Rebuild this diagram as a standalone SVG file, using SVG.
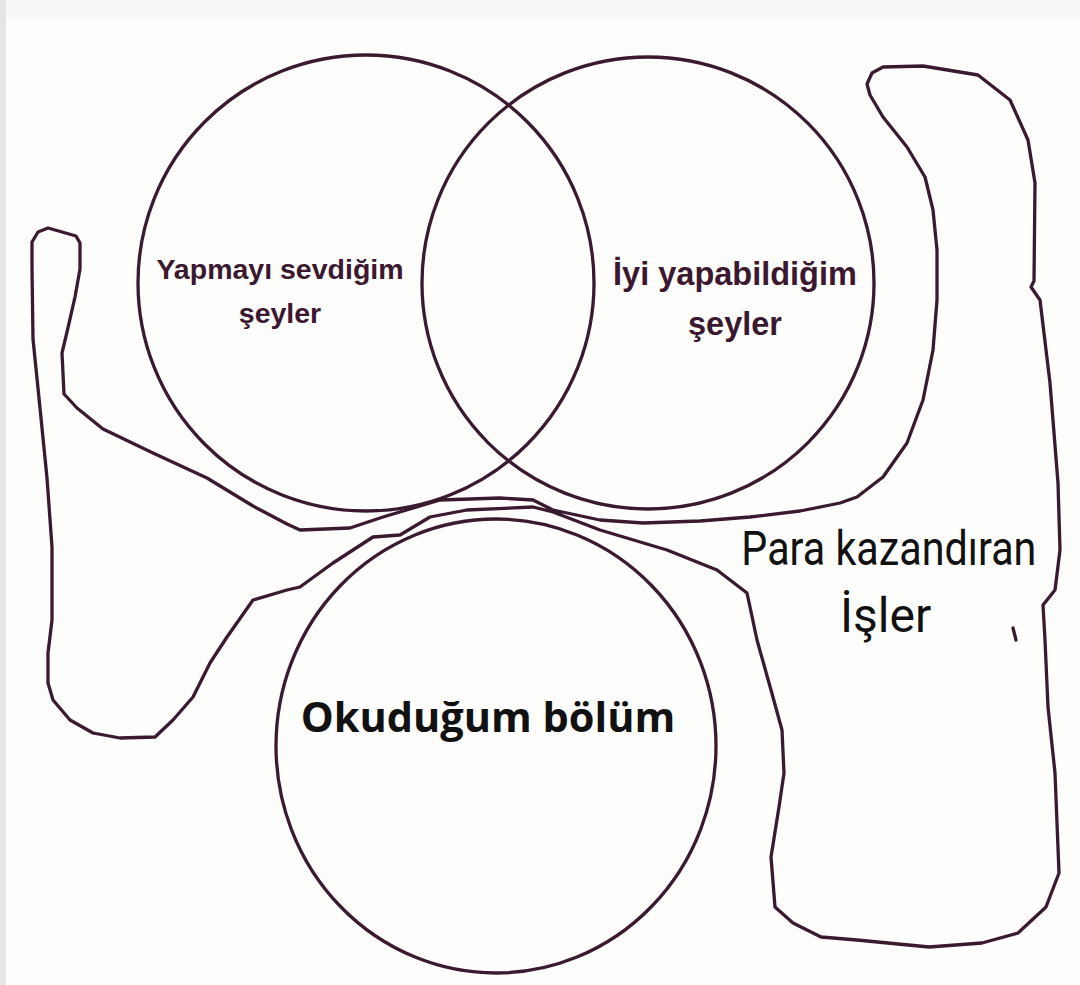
<svg xmlns="http://www.w3.org/2000/svg" width="1080" height="985" viewBox="0 0 1080 985">
<style>
.ln{fill:none;stroke:#3a1a30;stroke-width:3.3;stroke-linejoin:round;stroke-linecap:round}
.lbl{font-family:"Liberation Sans",Arial,sans-serif;font-weight:700;fill:#3b1830;text-anchor:middle}
.big{font-family:"Open Sans","Noto Sans",sans-serif;font-weight:700;fill:#111;text-anchor:middle}
.cond{font-family:Roboto,"Liberation Sans",sans-serif;font-weight:400;fill:#111}
</style>
<rect x="0" y="0" width="1080" height="985" fill="#fdfdfb"/>
<rect x="0" y="0" width="1080" height="20" fill="#f8f8f6"/>
<rect x="0" y="0" width="6" height="985" fill="#e6e6e6"/>

<g id="outline">
<path class="ln" d="M867,84 L870,95 L883,117 L907,147 L925,177 L933,210 L937,250 L937,300 L933,350 L923,400 L907,443 L883,477 L857,497 L840,503 L800,511 L750,517 L700,521 L643,523 L600,520 L553,510 L533,500 L500,498 L440,500 L383,517 L350,528 L300,530 L287,524 L253,506 L207,478 L153,453 L103,429 L77,408 L64,394 L62,353 L67,332 L75,297 L80,269 L80,243 L76,236 L48,228 L38,232 L32,242 L32,269 L33,339 L40,408 L47,478 L52,547 L52,620 L48,653 L48,683 L53,700 L70,720 L93,733 L120,738 L155,737 L173,720 L193,697 L210,663 L227,637 L253,600 L287,590 L300,587 L333,563 L373,537 L400,535 L430,517 L467,510 L533,507 L553,512 L600,530 L667,550 L717,570 L747,593 L750,607 L757,640 L771,690 L782,730 L784,773 L779,807 L771,857 L775,907 L793,923 L821,937 L857,940 L929,947 L982,943 L1018,933 L1046,907 L1059,873 L1055,773 L1048,707 L1045,640 L1043,605 L1055,590 L1060,550 L1058,483 L1050,383 L1040,300 L1031,287 L1034,281 L1035,183 L1028,140 L1010,100 L978,75 L923,66 L883,67 L872,73 Z"/>
</g>

<g id="circle-love">
<circle class="ln" cx="366" cy="283" r="228"/>
<text class="lbl" x="280" y="279" font-size="28.5">Yapmayı sevdiğim</text>
<text class="lbl" x="280" y="323" font-size="28.5">şeyler</text>
</g>

<g id="circle-good">
<circle class="ln" cx="648" cy="283" r="226"/>
<text class="lbl" x="735" y="285" font-size="32.5">İyi yapabildiğim</text>
<text class="lbl" x="735" y="335" font-size="32.5">şeyler</text>
</g>

<g id="circle-dept">
<ellipse class="ln" cx="496" cy="746" rx="220" ry="227"/>
<text class="big" x="488" y="732" font-size="41.5">Okuduğum bölüm</text>
</g>

<g id="label-money">
<text class="cond" transform="scale(0.86,1)" x="862" y="565" font-size="48">Para kazandıran</text>
<text class="cond" x="840" y="632" font-size="48">İşler</text>
<path class="ln" d="M1013,628 L1016,640" stroke-width="2"/>
</g>
</svg>
